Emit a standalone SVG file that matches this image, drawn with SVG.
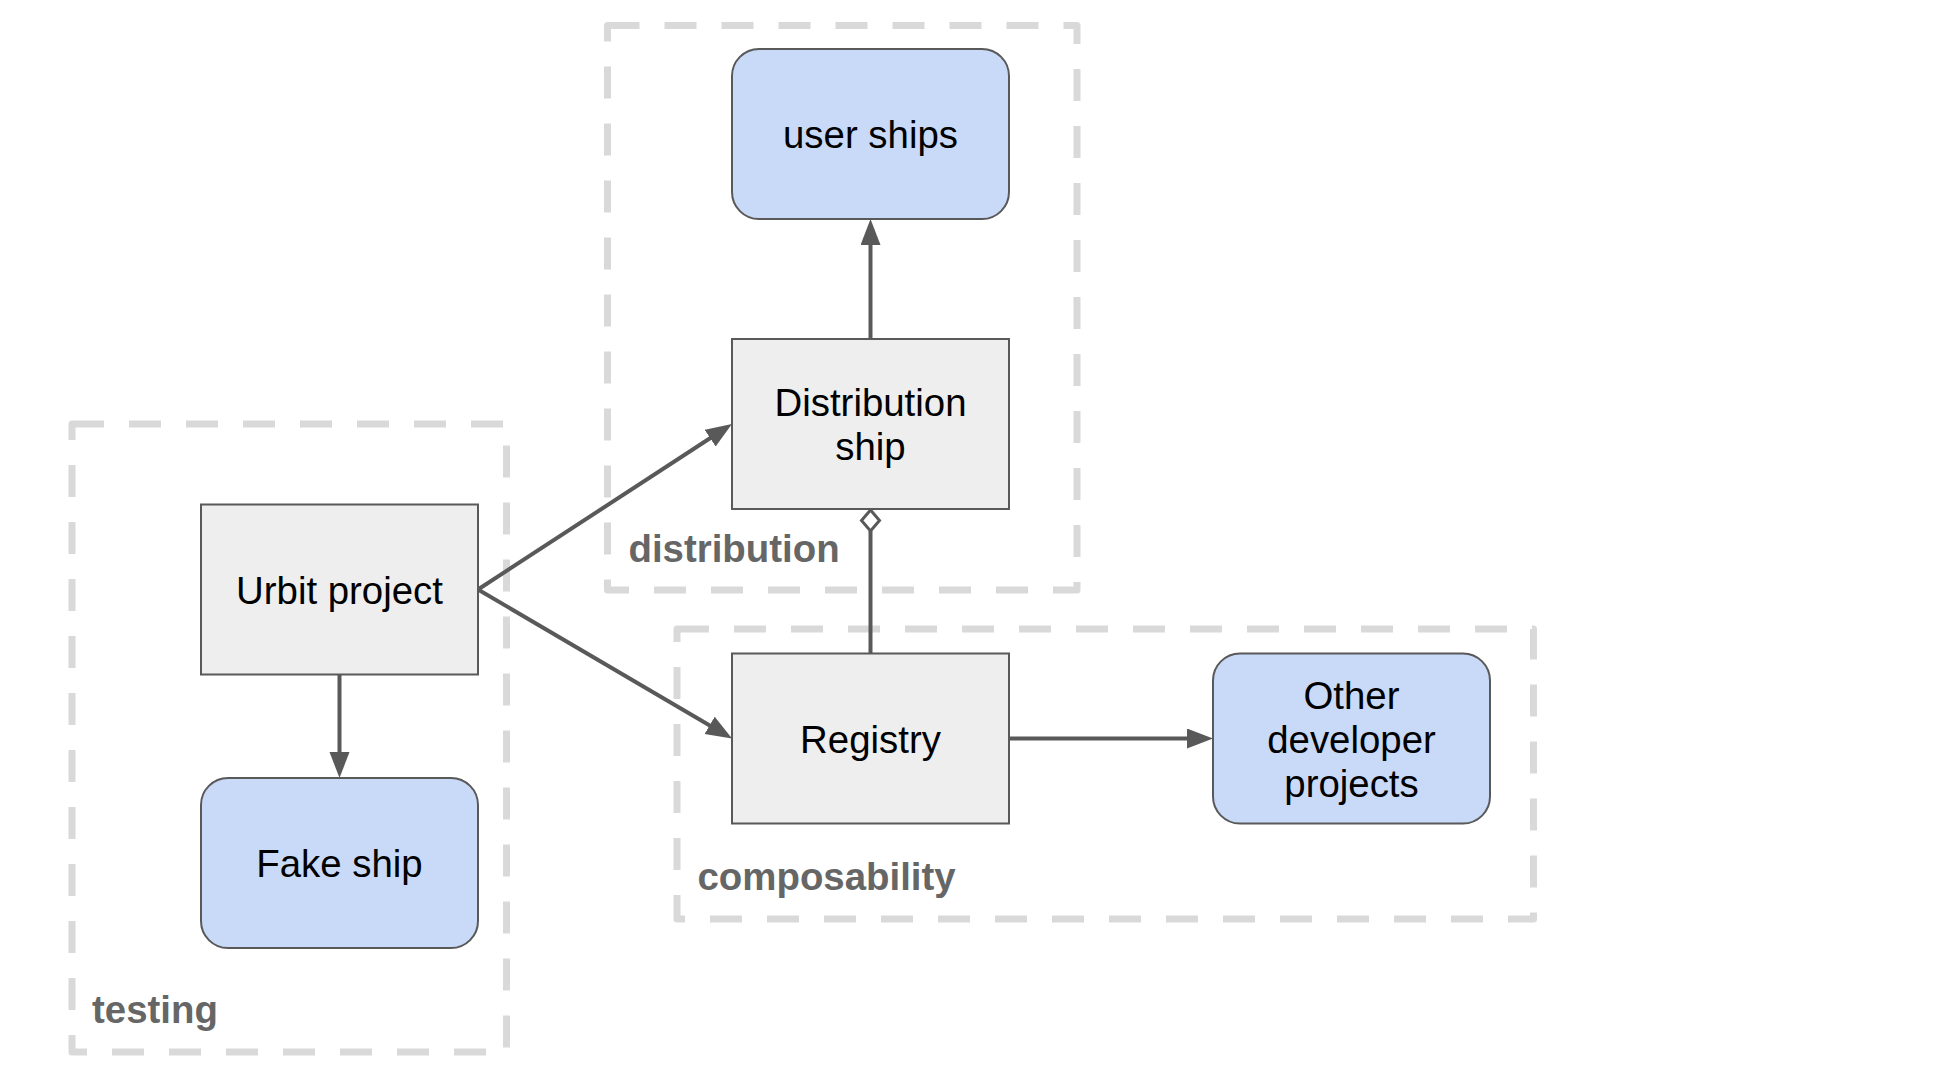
<svg xmlns="http://www.w3.org/2000/svg" width="1952" height="1088" viewBox="0 0 1952 1088">
  <defs>
    <style>
      .grp { fill: none; stroke: #d9d9d9; stroke-width: 7; stroke-dasharray: 32 25; stroke-linejoin: round; }
      .grplabel { font-family: "Liberation Sans", Arial, sans-serif; font-size: 38.4px; font-weight: bold; fill: #666666; }
      .proc { fill: #eeeeee; stroke: #595959; stroke-width: 2; }
      .ship { fill: #c9daf8; stroke: #595959; stroke-width: 2; }
      .label { font-family: "Liberation Sans", Arial, sans-serif; font-size: 38.4px; fill: #000000; text-anchor: middle; }
      .conn { fill: none; stroke: #595959; stroke-width: 4; }
    </style>
    <marker id="arrow" markerUnits="userSpaceOnUse" markerWidth="28" markerHeight="22" refX="14" refY="10" orient="auto">
      <path d="M0,0 L26,10 L0,20 Z" fill="#595959"/>
    </marker>
  </defs>
  <rect width="1952" height="1088" fill="#ffffff"/>

  <!-- groups -->
  <g id="group-distribution">
    <path class="grp" d="M607.5,25.5 H1077 V590 H607.5 Z"/>
    <text class="grplabel" x="628.5" y="562">distribution</text>
  </g>
  <g id="group-testing">
    <path class="grp" d="M72,424 H506.5 V1052 H72 Z"/>
    <text class="grplabel" x="92" y="1023">testing</text>
  </g>
  <g id="group-composability">
    <path class="grp" d="M677,629 H1533.5 V919 H677 Z"/>
    <text class="grplabel" x="697.5" y="890">composability</text>
  </g>

  <!-- connectors -->
  <g id="connectors">
    <line class="conn" x1="478" y1="589.5" x2="721.9" y2="430.5" marker-end="url(#arrow)"/>
    <line class="conn" x1="478" y1="589.5" x2="721.7" y2="732.4" marker-end="url(#arrow)"/>
    <line class="conn" x1="339.5" y1="674.5" x2="339.5" y2="766" marker-end="url(#arrow)"/>
    <line class="conn" x1="870.5" y1="339" x2="870.5" y2="231" marker-end="url(#arrow)"/>
    <line class="conn" x1="1009" y1="738.5" x2="1201" y2="738.5" marker-end="url(#arrow)"/>
    <line class="conn" x1="870.5" y1="653.5" x2="870.5" y2="531"/>
    <path d="M870.5,510 L879.5,520.5 L870.5,531 L861.5,520.5 Z" fill="#ffffff" stroke="#595959" stroke-width="3" stroke-linejoin="miter"/>
  </g>

  <!-- nodes -->
  <g id="node-user-ships">
    <rect class="ship" x="732" y="49" width="277" height="170" rx="27" ry="27"/>
    <text class="label" x="870.5" y="148">user ships</text>
  </g>
  <g id="node-distribution-ship">
    <rect class="proc" x="732" y="339" width="277" height="170"/>
    <text class="label" x="870.5" y="416">Distribution</text>
    <text class="label" x="870.5" y="460">ship</text>
  </g>
  <g id="node-urbit-project">
    <rect class="proc" x="201" y="504.5" width="277" height="170"/>
    <text class="label" x="339.5" y="603.5">Urbit project</text>
  </g>
  <g id="node-fake-ship">
    <rect class="ship" x="201" y="778" width="277" height="170" rx="27" ry="27"/>
    <text class="label" x="339.5" y="877">Fake ship</text>
  </g>
  <g id="node-registry">
    <rect class="proc" x="732" y="653.5" width="277" height="170"/>
    <text class="label" x="870.5" y="752.5">Registry</text>
  </g>
  <g id="node-other-developer-projects">
    <rect class="ship" x="1213" y="653.5" width="277" height="170" rx="27" ry="27"/>
    <text class="label" x="1351.5" y="709">Other</text>
    <text class="label" x="1351.5" y="753">developer</text>
    <text class="label" x="1351.5" y="797">projects</text>
  </g>
</svg>
